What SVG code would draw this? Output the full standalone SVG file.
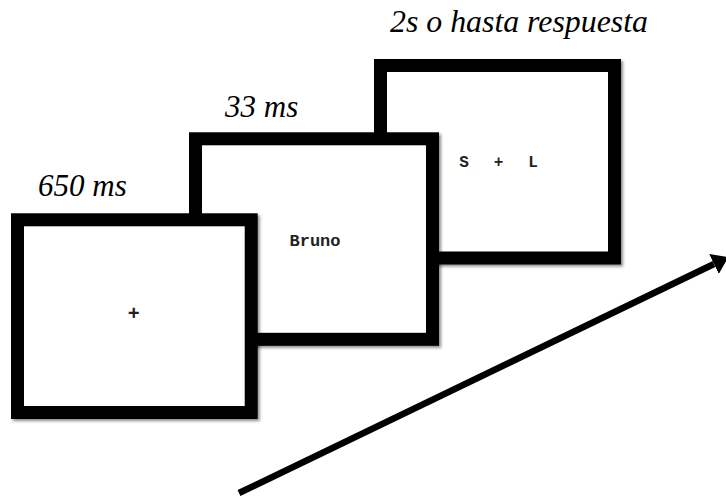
<svg xmlns="http://www.w3.org/2000/svg" width="726" height="499" viewBox="0 0 726 499">
  <style>
    .frame { fill: #ffffff; stroke: #000000; stroke-width: 13; filter: url(#shadow); }
    .label { font-family: "Liberation Serif", "Times New Roman", serif; font-style: italic; font-size: 31px; fill: #000000; }
    .stim { font-family: "Liberation Mono", "Courier New", monospace; font-weight: bold; fill: #222222; }
    .conn { stroke: #000000; stroke-width: 6.5; fill: none; }
  </style>
  <defs>
    <filter id="shadow" x="-10%" y="-10%" width="125%" height="125%">
      <feDropShadow dx="2" dy="2" stdDeviation="1.5" flood-color="#000000" flood-opacity="0.45"/>
    </filter>
    <marker id="arrowhead" viewBox="0 0 16 22" refX="0" refY="11" markerWidth="16" markerHeight="22" markerUnits="userSpaceOnUse" orient="auto">
      <path d="M0,0 L16,11 L0,22 Z" fill="#000000"/>
    </marker>
  </defs>
  <rect width="726" height="499" fill="#ffffff"/>

  <g id="screen-3">
    <rect class="frame" x="380.5" y="65.5" width="234" height="192.5"/>
    <text class="stim" x="464" y="167" font-size="16" text-anchor="middle">S</text>
    <text class="stim" x="498.5" y="167" font-size="16" text-anchor="middle">+</text>
    <text class="stim" x="533" y="167" font-size="16" text-anchor="middle">L</text>
    <text class="label" x="390" y="32" textLength="258" lengthAdjust="spacingAndGlyphs">2s o hasta respuesta</text>
  </g>

  <g id="screen-2">
    <rect class="frame" x="195.5" y="138.8" width="237" height="200.5"/>
    <text class="stim" x="289.5" y="246" font-size="17">Bruno</text>
    <text class="label" x="225" y="117">33 ms</text>
  </g>

  <g id="screen-1">
    <rect class="frame" x="17.5" y="219.8" width="233.7" height="192.7"/>
    <text class="stim" x="133.7" y="320" font-size="20" text-anchor="middle" style="font-weight:bold">+</text>
    <text class="label" x="38" y="196">650 ms</text>
  </g>

  <g id="connectors">
    <line class="conn" x1="239" y1="493" x2="714" y2="264" marker-end="url(#arrowhead)"/>
  </g>
</svg>
